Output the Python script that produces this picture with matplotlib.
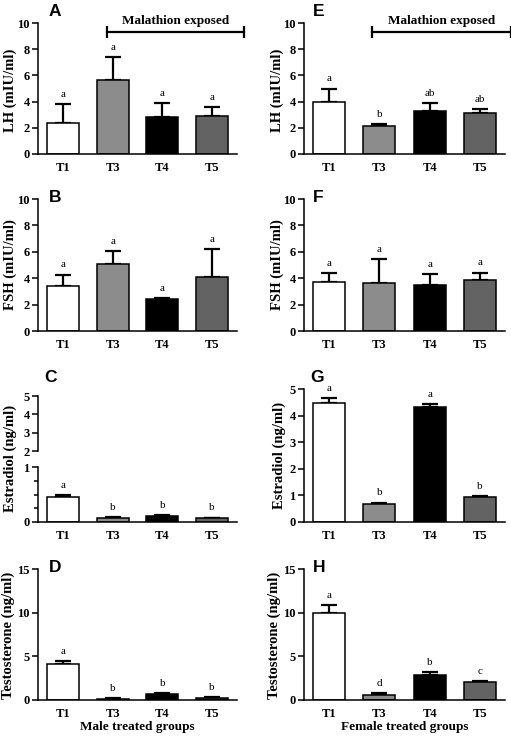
import matplotlib
matplotlib.use("Agg")
import matplotlib.pyplot as plt
import numpy as np

# groups and bar fills
groups = ["T1", "T3", "T4", "T5"]
bar_colors = ["white", "#8c8c8c", "black", "#636363"]

# male rats
lh_m = [2.4, 5.65, 2.8, 2.9]
lh_m_err = [1.4, 1.75, 1.1, 0.65]
lh_m_sig = ["a", "a", "a", "a"]
fsh_m = [3.4, 5.1, 2.42, 4.12]
fsh_m_err = [0.88, 0.95, 0.1, 2.07]
fsh_m_sig = ["a", "a", "a", "a"]
e2_m = [0.46, 0.074, 0.117, 0.067]
e2_m_err = [0.03, 0.016, 0.013, 0.013]
e2_m_sig = ["a", "b", "b", "b"]
t_m = [4.1, 0.15, 0.68, 0.23]
t_m_err = [0.39, 0.08, 0.12, 0.07]
t_m_sig = ["a", "b", "b", "b"]

# female rats
lh_f = [4.0, 2.15, 3.29, 3.14]
lh_f_err = [1.0, 0.12, 0.58, 0.28]
lh_f_sig = ["a", "b", "ab", "ab"]
fsh_f = [3.7, 3.65, 3.5, 3.87]
fsh_f_err = [0.68, 1.79, 0.83, 0.56]
fsh_f_sig = ["a", "a", "a", "a"]
e2_f = [4.47, 0.69, 4.32, 0.94]
e2_f_err = [0.19, 0.04, 0.11, 0.04]
e2_f_sig = ["a", "b", "a", "b"]
t_f = [9.92, 0.61, 2.81, 2.05]
t_f_err = [0.92, 0.19, 0.35, 0.15]
t_f_sig = ["a", "d", "b", "c"]

plt.rcParams["font.family"] = ["Liberation Serif", "DejaVu Serif"]
plt.rcParams["axes.linewidth"] = 1.1

W, H = 511, 736
fig = plt.figure(figsize=(W / 100, H / 100), dpi=100)


def box(x0, x1, y0, y1):
    # pixel box -> figure fraction
    return [x0 / W, 1 - y1 / H, (x1 - x0) / W, (y1 - y0) / H]


def style(ax, show_x=True):
    for s in ["top", "right"]:
        ax.spines[s].set_visible(False)
    ax.tick_params(axis="y", length=4, width=1.1, pad=2, labelsize=9)
    ax.tick_params(axis="x", length=0, pad=6, labelsize=9)
    for lab in ax.get_xticklabels() + ax.get_yticklabels():
        lab.set_fontweight("bold")
    if not show_x:
        ax.spines["bottom"].set_visible(False)
        ax.set_xticks([])


def draw(ax, vals, errs, sig, ylim, yticks):
    x = np.arange(len(groups))
    ax.bar(x, vals, width=0.64, color=bar_colors, edgecolor="black", linewidth=1.1, zorder=2)
    ax.errorbar(x, vals, yerr=[np.zeros(len(vals)), errs], fmt="none", ecolor="black",
                elinewidth=1.6, capsize=6, capthick=1.6, zorder=1)
    for xi, v, e, s in zip(x, vals, errs, sig):
        ax.annotate(s, (xi, v + e), xytext=(0, 7), textcoords="offset points",
                    ha="center", va="center", fontsize=8)
    ax.set_xlim(-0.5, 3.5)
    ax.set_ylim(*ylim)
    ax.set_yticks(yticks)
    ax.set_xticks(x)
    ax.set_xticklabels(groups)
    style(ax)


def bracket(ax, x0, x1, y):
    ax.plot([x0, x1], [y, y], color="black", lw=1.6, clip_on=False)
    ax.plot([x0, x1], [y, y], ls="none", marker="|", ms=9, mew=1.6, color="black", clip_on=False)
    ax.text((x0 + x1) / 2, y + 0.85, "Malathion exposed", ha="center", va="center",
            fontsize=9.5, fontweight="bold")


def ylab(x, y, s):
    fig.text(x / W, 1 - y / H, s, rotation=90, ha="center", va="center",
             fontsize=10.5, fontweight="bold")


def letter(x, y, s):
    fig.text(x / W, 1 - y / H, s, ha="left", va="center", fontsize=12.5,
             fontweight="bold", family=["Liberation Sans", "DejaVu Sans"])


L0, L1 = 38, 237
R0, R1 = 304, 505

# A
axA = fig.add_axes(box(L0, L1, 23, 154))
draw(axA, lh_m, lh_m_err, lh_m_sig, (0, 10), [0, 2, 4, 6, 8, 10])
bracket(axA, 0.88, 3.64, 9.3)
# E
axE = fig.add_axes(box(R0, R1, 23, 154))
draw(axE, lh_f, lh_f_err, lh_f_sig, (0, 10), [0, 2, 4, 6, 8, 10])
bracket(axE, 0.86, 3.62, 9.3)
# B
axB = fig.add_axes(box(L0, L1, 199, 331))
draw(axB, fsh_m, fsh_m_err, fsh_m_sig, (0, 10), [0, 2, 4, 6, 8, 10])
# F
axF = fig.add_axes(box(R0, R1, 199, 331))
draw(axF, fsh_f, fsh_f_err, fsh_f_sig, (0, 10), [0, 2, 4, 6, 8, 10])
# C (broken axis)
axCt = fig.add_axes(box(L0, L1, 396, 451))
axCt.set_xlim(-0.5, 3.5)
axCt.set_ylim(2, 5)
axCt.set_yticks([2, 3, 4, 5])
axCt.patch.set_alpha(0)
style(axCt, show_x=False)
axCb = fig.add_axes(box(L0, L1, 467, 522))
draw(axCb, e2_m, e2_m_err, e2_m_sig, (0, 1), [0, 1])
axCb.set_yticks([0.25, 0.5, 0.75], minor=True)
axCb.tick_params(axis="y", which="minor", length=3, width=1.1)
# G
axG = fig.add_axes(box(R0, R1, 389, 522))
draw(axG, e2_f, e2_f_err, e2_f_sig, (0, 5), [0, 1, 2, 3, 4, 5])
# D
axD = fig.add_axes(box(L0, L1, 569, 700))
draw(axD, t_m, t_m_err, t_m_sig, (0, 15), [0, 5, 10, 15])
# H
axH = fig.add_axes(box(R0, R1, 569, 700))
draw(axH, t_f, t_f_err, t_f_sig, (0, 15), [0, 5, 10, 15])

# y labels
ylab(10, 90, "LH (mIU/ml)")
ylab(277, 90, "LH (mIU/ml)")
ylab(10, 265, "FSH (mIU/ml)")
ylab(277, 265, "FSH (mIU/ml)")
ylab(10, 458, "Estradiol (ng/ml)")
ylab(279, 455, "Estradiol (ng/ml)")
ylab(8, 635, "Testosterone (ng/ml)")
ylab(274, 635, "Testosterone (ng/ml)")

# x labels
fig.text((L0 + L1) / 2 / W, 1 - 727 / H, "Male treated groups", ha="center", va="center",
         fontsize=9.5, fontweight="bold")
fig.text((R0 + R1) / 2 / W, 1 - 727 / H, "Female treated groups", ha="center", va="center",
         fontsize=9.5, fontweight="bold")

# panel letters
letter(49, 12, "A")
letter(313, 12, "E")
letter(49, 197, "B")
letter(313, 197, "F")
letter(44, 377, "C")
letter(310, 378, "G")
letter(49, 568, "D")
letter(313, 568, "H")

fig.savefig("out.png", dpi=100)
